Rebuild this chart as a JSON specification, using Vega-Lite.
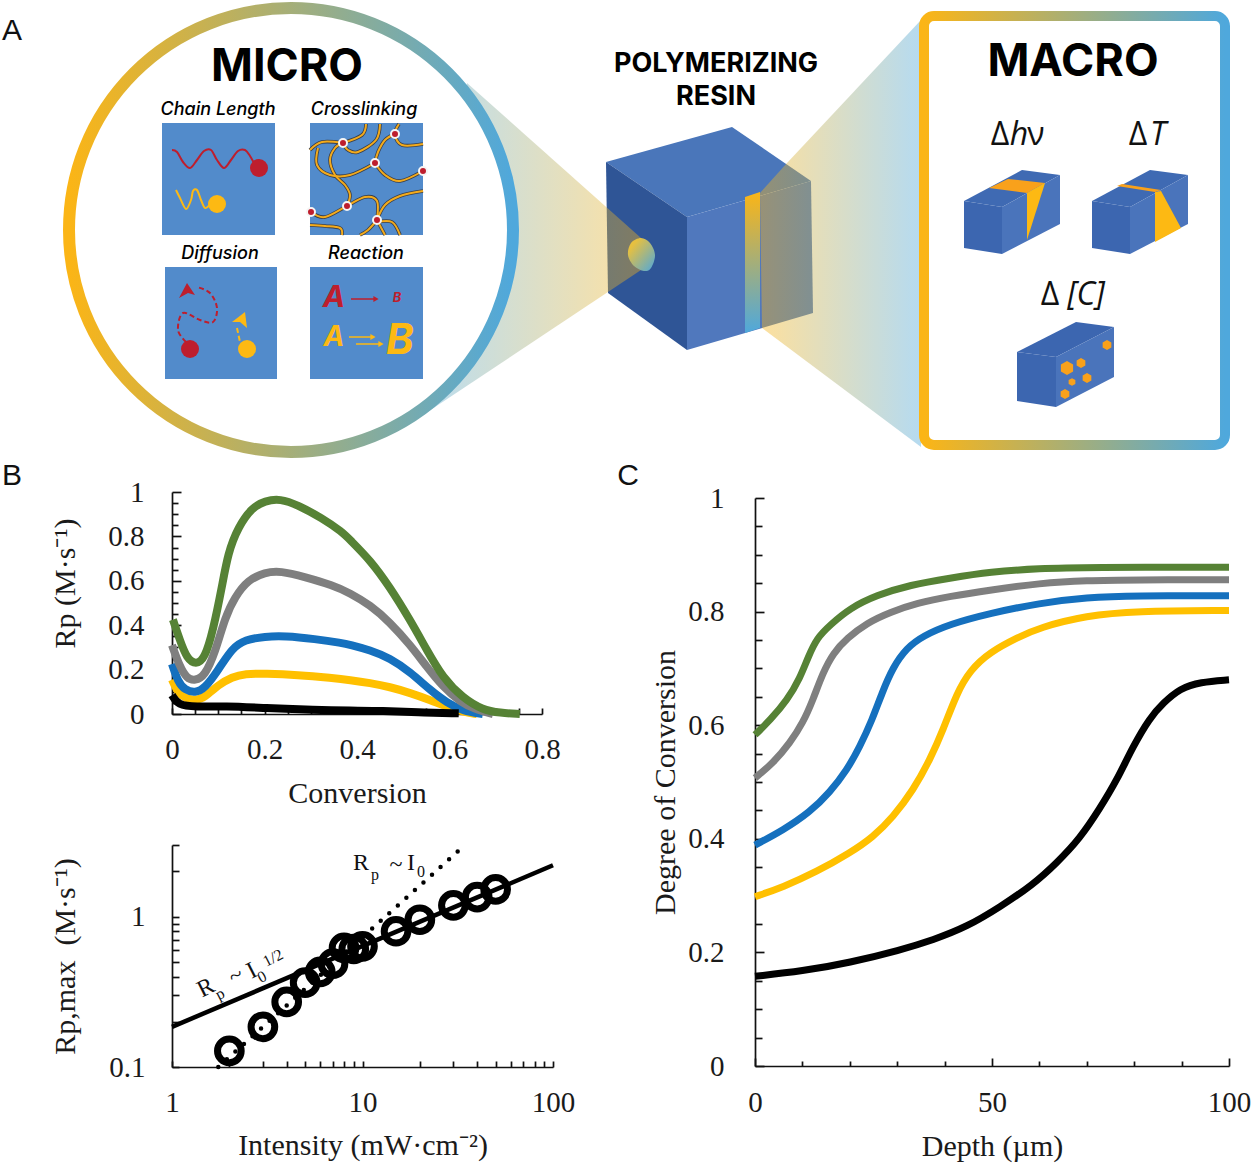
{"$schema":"https://vega.github.io/schema/vega-lite/v6.json","width":1253,"height":1164,"padding":0,"autosize":{"type":"none"},"background":"white","config":{"view":{"stroke":null},"axis":{"grid":false,"labelFont":"Liberation Serif","titleFont":"Liberation Serif","labelFontSize":29,"titleFontSize":30,"titleFontWeight":"normal","labelColor":"#1a1a1a","titleColor":"#1a1a1a","domainColor":"#111","tickColor":"#111","domainWidth":1.7,"tickWidth":1.7,"labelOverlap":false,"labelBound":false,"labelFlush":false}},
"datasets":{
"polyA":[
{"id":"top","p":"cubeTop","i":0,"x":606,"y":162},{"id":"top","p":"cubeTop","i":1,"x":732,"y":127},{"id":"top","p":"cubeTop","i":2,"x":811,"y":181},{"id":"top","p":"cubeTop","i":3,"x":687,"y":217},
{"id":"left","p":"cubeLeft","i":0,"x":606,"y":162},{"id":"left","p":"cubeLeft","i":1,"x":687,"y":217},{"id":"left","p":"cubeLeft","i":2,"x":687,"y":350},{"id":"left","p":"cubeLeft","i":3,"x":608,"y":293},
{"id":"right","p":"cubeRight","i":0,"x":687,"y":217},{"id":"right","p":"cubeRight","i":1,"x":811,"y":181},{"id":"right","p":"cubeRight","i":2,"x":813,"y":313},{"id":"right","p":"cubeRight","i":3,"x":687,"y":350}],
"slit":[{"i":0,"x":745,"y":197},{"i":1,"x":760,"y":192},{"i":2,"x":760,"y":328},{"i":3,"x":745,"y":333}],
"coneL":[{"i":0,"x":467,"y":83},{"i":1,"x":641,"y":238},{"i":2,"x":641,"y":270},{"i":3,"x":420,"y":417}],
"coneR":[{"i":0,"x":760,"y":193},{"i":1,"x":787,"y":163},{"i":2,"x":921,"y":20},{"i":3,"x":921,"y":447},{"i":4,"x":762,"y":328}],
"hole":[{"i":0,"x":641,"y":238},{"i":1,"x":650,"y":243},{"i":2,"x":655,"y":255},{"i":3,"x":651,"y":268},{"i":4,"x":644,"y":271},{"i":5,"x":634,"y":266},{"i":6,"x":628,"y":255},{"i":7,"x":631,"y":243}],
"ring":[{"x":291,"y":230}],
"macroBox":[{"x":924,"y":16,"x2":1225,"y2":445}],
"squares":[{"n":"Chain Length","x":162,"x2":275,"y":123,"y2":235},{"n":"Crosslinking","x":310,"x2":423,"y":123,"y2":235},{"n":"Diffusion","x":165,"x2":277,"y":267,"y2":379},{"n":"Reaction","x":310,"x2":423,"y":267,"y2":379}],
"waves":[
{"g":"red","i":0,"x":172,"y":150},{"g":"red","i":1,"x":177,"y":152},{"g":"red","i":2,"x":183,"y":162},{"g":"red","i":3,"x":190,"y":168},{"g":"red","i":4,"x":197,"y":160},{"g":"red","i":5,"x":204,"y":151},{"g":"red","i":6,"x":211,"y":150},{"g":"red","i":7,"x":217,"y":160},{"g":"red","i":8,"x":224,"y":168},{"g":"red","i":9,"x":231,"y":160},{"g":"red","i":10,"x":238,"y":151},{"g":"red","i":11,"x":245,"y":150},{"g":"red","i":12,"x":250,"y":156},{"g":"red","i":13,"x":255,"y":165},
{"g":"yellow","i":0,"x":176,"y":190},{"g":"yellow","i":1,"x":180,"y":198},{"g":"yellow","i":2,"x":186,"y":209},{"g":"yellow","i":3,"x":191,"y":200},{"g":"yellow","i":4,"x":193,"y":191},{"g":"yellow","i":5,"x":197,"y":190},{"g":"yellow","i":6,"x":201,"y":200},{"g":"yellow","i":7,"x":205,"y":208},{"g":"yellow","i":8,"x":210,"y":205},{"g":"yellow","i":9,"x":214,"y":203}],
"dash":[
{"g":"red","i":0,"x":186,"y":342},{"g":"red","i":1,"x":178,"y":330},{"g":"red","i":2,"x":183,"y":313},{"g":"red","i":3,"x":200,"y":320},{"g":"red","i":4,"x":213,"y":322},{"g":"red","i":5,"x":217,"y":308},{"g":"red","i":6,"x":210,"y":293},{"g":"red","i":7,"x":197,"y":287},
{"g":"yellow","i":0,"x":237,"y":328},{"g":"yellow","i":1,"x":240,"y":342}],
"dots":[{"g":"red","x":259,"y":168},{"g":"yellow","x":217,"y":204},{"g":"red","x":190,"y":349},{"g":"yellow","x":247,"y":349}],
"heads":[
{"g":"red","i":0,"x":187,"y":283},{"g":"red","i":1,"x":179,"y":298},{"g":"red","i":2,"x":188,"y":293},{"g":"red","i":3,"x":195,"y":295},
{"g":"yellow","i":0,"x":245,"y":312},{"g":"yellow","i":1,"x":232,"y":322},{"g":"yellow","i":2,"x":240,"y":322},{"g":"yellow","i":3,"x":247,"y":328}],
"links":[
{"g":"a","i":0,"x":310,"y":150},{"g":"a","i":1,"x":322,"y":142},{"g":"a","i":2,"x":343,"y":143},
{"g":"b","i":0,"x":366,"y":124},{"g":"b","i":1,"x":362,"y":135},{"g":"b","i":2,"x":343,"y":143},
{"g":"c","i":0,"x":343,"y":143},{"g":"c","i":1,"x":335,"y":148},{"g":"c","i":2,"x":330,"y":160},{"g":"c","i":3,"x":335,"y":175},{"g":"c","i":4,"x":345,"y":185},{"g":"c","i":5,"x":350,"y":195},{"g":"c","i":6,"x":347,"y":206},
{"g":"d","i":0,"x":318,"y":148},{"g":"d","i":1,"x":317,"y":165},{"g":"d","i":2,"x":330,"y":175},{"g":"d","i":3,"x":350,"y":175},{"g":"d","i":4,"x":375,"y":163},
{"g":"e","i":0,"x":380,"y":124},{"g":"e","i":1,"x":376,"y":140},{"g":"e","i":2,"x":358,"y":152},{"g":"e","i":3,"x":348,"y":150},{"g":"e","i":4,"x":343,"y":143},
{"g":"f","i":0,"x":395,"y":134},{"g":"f","i":1,"x":385,"y":140},{"g":"f","i":2,"x":378,"y":152},{"g":"f","i":3,"x":375,"y":163},
{"g":"g","i":0,"x":399,"y":124},{"g":"g","i":1,"x":395,"y":134},{"g":"g","i":2,"x":402,"y":145},{"g":"g","i":3,"x":423,"y":144},
{"g":"h","i":0,"x":375,"y":163},{"g":"h","i":1,"x":385,"y":175},{"g":"h","i":2,"x":400,"y":181},{"g":"h","i":3,"x":423,"y":171},
{"g":"i","i":0,"x":311,"y":212},{"g":"i","i":1,"x":325,"y":217},{"g":"i","i":2,"x":347,"y":206},{"g":"i","i":3,"x":365,"y":197},{"g":"i","i":4,"x":377,"y":201},{"g":"i","i":5,"x":377,"y":220},
{"g":"j","i":0,"x":377,"y":220},{"g":"j","i":1,"x":385,"y":205},{"g":"j","i":2,"x":400,"y":196},{"g":"j","i":3,"x":423,"y":191},
{"g":"k","i":0,"x":310,"y":225},{"g":"k","i":1,"x":325,"y":226},{"g":"k","i":2,"x":340,"y":228},{"g":"k","i":3,"x":342,"y":235},
{"g":"l","i":0,"x":377,"y":220},{"g":"l","i":1,"x":368,"y":230},{"g":"l","i":2,"x":360,"y":235},
{"g":"m","i":0,"x":377,"y":220},{"g":"m","i":1,"x":385,"y":235},
{"g":"n","i":0,"x":377,"y":222},{"g":"n","i":1,"x":392,"y":222},{"g":"n","i":2,"x":400,"y":235}],
"nodes":[{"x":343,"y":143},{"x":395,"y":134},{"x":375,"y":163},{"x":423,"y":171},{"x":347,"y":206},{"x":311,"y":212},{"x":377,"y":220}],
"arrows":[{"g":"red","a":"r1","i":0,"x":351,"y":299},{"g":"red","a":"r1","i":1,"x":376,"y":299},{"g":"yellow","a":"y1","i":0,"x":349,"y":337},{"g":"yellow","a":"y1","i":1,"x":373,"y":337},{"g":"yellow","a":"y2","i":0,"x":356,"y":344},{"g":"yellow","a":"y2","i":1,"x":381,"y":344}],
"arrowTips":[{"g":"red","x":376,"y":299},{"g":"yellow","x":373,"y":337},{"g":"yellow","x":381,"y":344}],
"reaction":[{"t":"A","g":"red","k":"big","x":334,"y":298},{"t":"B","g":"red","k":"small","x":397,"y":298},{"t":"A","g":"yellow","k":"mid","x":334,"y":338},{"t":"B","g":"yellow","k":"huge","x":400,"y":341}],
"boxes":[
{"id":"b1l","p":"side","i":0,"x":964,"y":201},{"id":"b1l","p":"side","i":1,"x":1002,"y":207},{"id":"b1l","p":"side","i":2,"x":1002,"y":254},{"id":"b1l","p":"side","i":3,"x":964,"y":248},
{"id":"b1t","p":"lid","i":0,"x":964,"y":201},{"id":"b1t","p":"lid","i":1,"x":1022,"y":170},{"id":"b1t","p":"lid","i":2,"x":1060,"y":175},{"id":"b1t","p":"lid","i":3,"x":1002,"y":207},
{"id":"b1r","p":"front","i":0,"x":1002,"y":207},{"id":"b1r","p":"front","i":1,"x":1060,"y":175},{"id":"b1r","p":"front","i":2,"x":1060,"y":224},{"id":"b1r","p":"front","i":3,"x":1002,"y":254},
{"id":"b1s","p":"strip","i":0,"x":989,"y":188},{"id":"b1s","p":"strip","i":1,"x":1008,"y":179},{"id":"b1s","p":"strip","i":2,"x":1045,"y":183},{"id":"b1s","p":"strip","i":3,"x":1027,"y":193},
{"id":"b1w","p":"wedge","i":0,"x":1027,"y":193},{"id":"b1w","p":"wedge","i":1,"x":1045,"y":183},{"id":"b1w","p":"wedge","i":2,"x":1027,"y":240},
{"id":"b2l","p":"side","i":0,"x":1092,"y":201},{"id":"b2l","p":"side","i":1,"x":1130,"y":207},{"id":"b2l","p":"side","i":2,"x":1130,"y":254},{"id":"b2l","p":"side","i":3,"x":1092,"y":248},
{"id":"b2t","p":"lid","i":0,"x":1092,"y":201},{"id":"b2t","p":"lid","i":1,"x":1150,"y":170},{"id":"b2t","p":"lid","i":2,"x":1188,"y":175},{"id":"b2t","p":"lid","i":3,"x":1130,"y":207},
{"id":"b2r","p":"front","i":0,"x":1130,"y":207},{"id":"b2r","p":"front","i":1,"x":1188,"y":175},{"id":"b2r","p":"front","i":2,"x":1188,"y":224},{"id":"b2r","p":"front","i":3,"x":1130,"y":254},
{"id":"b2s","p":"strip","i":0,"x":1117,"y":186},{"id":"b2s","p":"strip","i":1,"x":1122,"y":184},{"id":"b2s","p":"strip","i":2,"x":1161,"y":190},{"id":"b2s","p":"strip","i":3,"x":1155,"y":192},
{"id":"b2w","p":"wedge","i":0,"x":1155,"y":192},{"id":"b2w","p":"wedge","i":1,"x":1161,"y":191},{"id":"b2w","p":"wedge","i":2,"x":1181,"y":228},{"id":"b2w","p":"wedge","i":3,"x":1155,"y":242},
{"id":"b3l","p":"side","i":0,"x":1017,"y":352},{"id":"b3l","p":"side","i":1,"x":1056,"y":357},{"id":"b3l","p":"side","i":2,"x":1056,"y":407},{"id":"b3l","p":"side","i":3,"x":1017,"y":401},
{"id":"b3t","p":"side","i":0,"x":1017,"y":352},{"id":"b3t","p":"side","i":1,"x":1076,"y":322},{"id":"b3t","p":"side","i":2,"x":1114,"y":327},{"id":"b3t","p":"side","i":3,"x":1056,"y":357},
{"id":"b3r","p":"front","i":0,"x":1056,"y":357},{"id":"b3r","p":"front","i":1,"x":1114,"y":327},{"id":"b3r","p":"front","i":2,"x":1114,"y":377},{"id":"b3r","p":"front","i":3,"x":1056,"y":407}],
"hexBig":[{"x":1067,"y":368}],
"hexSmall":[{"x":1081,"y":363},{"x":1107,"y":345},{"x":1087,"y":378},{"x":1065,"y":394}],
"hexTiny":[{"x":1072,"y":382}],
"letters":[{"t":"A","x":12,"y":31},{"t":"B","x":12,"y":476},{"t":"C","x":628,"y":476}],
"heads1":[{"t":"MICRO","k":"h1","x":287,"y":67},{"t":"MACRO","k":"h1","x":1073,"y":62},{"t":"POLYMERIZING","k":"h2","x":716,"y":64},{"t":"RESIN","k":"h2","x":716,"y":97}],
"heads2":[{"t":"Chain Length","x":218,"y":110},{"t":"Crosslinking","x":364,"y":110},{"t":"Diffusion","x":220,"y":254},{"t":"Reaction","x":366,"y":254}],
"deltaU":[{"t":"Δ","x":1000,"y":135},{"t":"ν","x":1036,"y":135},{"t":"Δ","x":1138,"y":135},{"t":"Δ","x":1050,"y":295}],
"deltaI":[{"t":"h","x":1019,"y":135},{"t":"T","x":1158,"y":135},{"t":"[C]","x":1086,"y":295}],
"anno":[{"t":"R","k":"b","x":361,"y":863},{"t":"p","k":"s","x":375,"y":875},{"t":"~","k":"b","x":396,"y":865},{"t":"I","k":"b","x":411,"y":863},{"t":"0","k":"s","x":421,"y":872}],
"annoR":[{"t":"R","k":"b","x":206,"y":988},{"t":"p","k":"s","x":220,"y":994},{"t":"~","k":"b","x":236,"y":976},{"t":"I","k":"b","x":252,"y":971},{"t":"0","k":"s","x":262,"y":977},{"t":"1/2","k":"s","x":273,"y":958}],
"rate":[
{"s":"yellow","x":0,"y":0.155},{"s":"yellow","x":0.013,"y":0.095},{"s":"yellow","x":0.028,"y":0.072},{"s":"yellow","x":0.05,"y":0.06},{"s":"yellow","x":0.071,"y":0.075},{"s":"yellow","x":0.1,"y":0.131},{"s":"yellow","x":0.13,"y":0.167},{"s":"yellow","x":0.158,"y":0.182},{"s":"yellow","x":0.201,"y":0.182},{"s":"yellow","x":0.272,"y":0.176},{"s":"yellow","x":0.346,"y":0.162},{"s":"yellow","x":0.385,"y":0.153},{"s":"yellow","x":0.428,"y":0.14},{"s":"yellow","x":0.471,"y":0.122},{"s":"yellow","x":0.515,"y":0.095},{"s":"yellow","x":0.558,"y":0.063},{"s":"yellow","x":0.595,"y":0.032},{"s":"yellow","x":0.629,"y":0.009},{"s":"yellow","x":0.659,"y":0},
{"s":"blue","x":0,"y":0.225},{"s":"blue","x":0.013,"y":0.144},{"s":"blue","x":0.028,"y":0.108},{"s":"blue","x":0.05,"y":0.095},{"s":"blue","x":0.071,"y":0.115},{"s":"blue","x":0.1,"y":0.198},{"s":"blue","x":0.13,"y":0.297},{"s":"blue","x":0.158,"y":0.335},{"s":"blue","x":0.201,"y":0.349},{"s":"blue","x":0.244,"y":0.352},{"s":"blue","x":0.309,"y":0.338},{"s":"blue","x":0.368,"y":0.32},{"s":"blue","x":0.385,"y":0.312},{"s":"blue","x":0.428,"y":0.288},{"s":"blue","x":0.471,"y":0.252},{"s":"blue","x":0.515,"y":0.189},{"s":"blue","x":0.558,"y":0.108},{"s":"blue","x":0.595,"y":0.05},{"s":"blue","x":0.629,"y":0.014},{"s":"blue","x":0.672,"y":0},
{"s":"gray","x":0,"y":0.31},{"s":"gray","x":0.017,"y":0.212},{"s":"gray","x":0.032,"y":0.16},{"s":"gray","x":0.05,"y":0.15},{"s":"gray","x":0.071,"y":0.172},{"s":"gray","x":0.093,"y":0.275},{"s":"gray","x":0.115,"y":0.437},{"s":"gray","x":0.136,"y":0.527},{"s":"gray","x":0.164,"y":0.604},{"s":"gray","x":0.201,"y":0.638},{"s":"gray","x":0.234,"y":0.645},{"s":"gray","x":0.288,"y":0.617},{"s":"gray","x":0.346,"y":0.581},{"s":"gray","x":0.385,"y":0.545},{"s":"gray","x":0.428,"y":0.491},{"s":"gray","x":0.471,"y":0.414},{"s":"gray","x":0.515,"y":0.311},{"s":"gray","x":0.551,"y":0.212},{"s":"gray","x":0.586,"y":0.122},{"s":"gray","x":0.623,"y":0.054},{"s":"gray","x":0.659,"y":0.018},{"s":"gray","x":0.694,"y":0},
{"s":"green","x":0.002,"y":0.425},{"s":"green","x":0.017,"y":0.333},{"s":"green","x":0.032,"y":0.25},{"s":"green","x":0.052,"y":0.222},{"s":"green","x":0.071,"y":0.25},{"s":"green","x":0.089,"y":0.378},{"s":"green","x":0.108,"y":0.572},{"s":"green","x":0.121,"y":0.725},{"s":"green","x":0.143,"y":0.842},{"s":"green","x":0.173,"y":0.93},{"s":"green","x":0.201,"y":0.96},{"s":"green","x":0.234,"y":0.97},{"s":"green","x":0.272,"y":0.941},{"s":"green","x":0.324,"y":0.883},{"s":"green","x":0.368,"y":0.82},{"s":"green","x":0.385,"y":0.784},{"s":"green","x":0.428,"y":0.694},{"s":"green","x":0.471,"y":0.572},{"s":"green","x":0.515,"y":0.423},{"s":"green","x":0.551,"y":0.288},{"s":"green","x":0.586,"y":0.162},{"s":"green","x":0.629,"y":0.072},{"s":"green","x":0.672,"y":0.018},{"s":"green","x":0.709,"y":0.005},{"s":"green","x":0.752,"y":0},
{"s":"black","x":0,"y":0.085},{"s":"black","x":0.013,"y":0.04},{"s":"black","x":0.05,"y":0.032},{"s":"black","x":0.115,"y":0.036},{"s":"black","x":0.2,"y":0.027},{"s":"black","x":0.31,"y":0.018},{"s":"black","x":0.385,"y":0.015},{"s":"black","x":0.456,"y":0.014},{"s":"black","x":0.53,"y":0.007},{"s":"black","x":0.62,"y":0.003}],
"depth":[
{"s":"black","x":0,"y":0.158},{"s":"black","x":10,"y":0.167},{"s":"black","x":20,"y":0.182},{"s":"black","x":30.6,"y":0.204},{"s":"black","x":37.6,"y":0.222},{"s":"black","x":44.7,"y":0.245},{"s":"black","x":51.7,"y":0.28},{"s":"black","x":58.6,"y":0.319},{"s":"black","x":63.6,"y":0.357},{"s":"black","x":68.6,"y":0.401},{"s":"black","x":72.8,"y":0.454},{"s":"black","x":76.4,"y":0.504},{"s":"black","x":79.7,"y":0.562},{"s":"black","x":83.3,"y":0.613},{"s":"black","x":86.1,"y":0.639},{"s":"black","x":89.7,"y":0.665},{"s":"black","x":93.9,"y":0.676},{"s":"black","x":100,"y":0.68},
{"s":"yellow","x":0,"y":0.298},{"s":"yellow","x":5.9,"y":0.315},{"s":"yellow","x":13,"y":0.342},{"s":"yellow","x":20,"y":0.375},{"s":"yellow","x":24.9,"y":0.403},{"s":"yellow","x":29.1,"y":0.438},{"s":"yellow","x":33.4,"y":0.486},{"s":"yellow","x":36.9,"y":0.539},{"s":"yellow","x":39.7,"y":0.592},{"s":"yellow","x":42.6,"y":0.657},{"s":"yellow","x":45.4,"y":0.697},{"s":"yellow","x":49.6,"y":0.729},{"s":"yellow","x":55.3,"y":0.754},{"s":"yellow","x":60,"y":0.772},{"s":"yellow","x":70,"y":0.793},{"s":"yellow","x":80,"y":0.801},{"s":"yellow","x":100,"y":0.802},
{"s":"blue","x":0,"y":0.389},{"s":"blue","x":5.9,"y":0.415},{"s":"blue","x":11.6,"y":0.447},{"s":"blue","x":15.8,"y":0.482},{"s":"blue","x":19.4,"y":0.521},{"s":"blue","x":22.1,"y":0.562},{"s":"blue","x":24.7,"y":0.609},{"s":"blue","x":26.8,"y":0.657},{"s":"blue","x":29.1,"y":0.702},{"s":"blue","x":32,"y":0.736},{"s":"blue","x":35.4,"y":0.757},{"s":"blue","x":41.1,"y":0.778},{"s":"blue","x":49.6,"y":0.797},{"s":"blue","x":60,"y":0.815},{"s":"blue","x":70,"y":0.825},{"s":"blue","x":80,"y":0.828},{"s":"blue","x":100,"y":0.828},
{"s":"gray","x":0,"y":0.507},{"s":"gray","x":3.8,"y":0.533},{"s":"gray","x":7.4,"y":0.569},{"s":"gray","x":10.1,"y":0.604},{"s":"gray","x":12.2,"y":0.644},{"s":"gray","x":14.3,"y":0.692},{"s":"gray","x":16.5,"y":0.727},{"s":"gray","x":19.4,"y":0.753},{"s":"gray","x":23.6,"y":0.78},{"s":"gray","x":28.5,"y":0.799},{"s":"gray","x":34.2,"y":0.815},{"s":"gray","x":41.1,"y":0.827},{"s":"gray","x":49.6,"y":0.838},{"s":"gray","x":60,"y":0.85},{"s":"gray","x":70,"y":0.855},{"s":"gray","x":80,"y":0.856},{"s":"gray","x":100,"y":0.856},
{"s":"green","x":0,"y":0.583},{"s":"green","x":3.2,"y":0.609},{"s":"green","x":6.8,"y":0.644},{"s":"green","x":9.5,"y":0.683},{"s":"green","x":11.2,"y":0.72},{"s":"green","x":13.1,"y":0.754},{"s":"green","x":15.8,"y":0.776},{"s":"green","x":20,"y":0.806},{"s":"green","x":25.7,"y":0.829},{"s":"green","x":32.7,"y":0.847},{"s":"green","x":41.1,"y":0.859},{"s":"green","x":49.6,"y":0.87},{"s":"green","x":60,"y":0.876},{"s":"green","x":70,"y":0.878},{"s":"green","x":100,"y":0.878}],
"rings":[{"x":2,"y":0.128},{"x":3,"y":0.185},{"x":4,"y":0.271},{"x":5,"y":0.364},{"x":6,"y":0.429},{"x":7,"y":0.487},{"x":8,"y":0.62},{"x":9,"y":0.61},{"x":10,"y":0.635},{"x":15,"y":0.8},{"x":20,"y":0.955},{"x":30,"y":1.19},{"x":40,"y":1.35},{"x":50,"y":1.52}],
"halfLine":[{"x":1,"y":0.185},{"x":100,"y":2.2}],
"oneLine":[{"x":1.75,"y":0.1},{"x":33,"y":2.85}]
},
"resolve":{"scale":{"x":"independent","y":"independent","color":"independent","fill":"independent","stroke":"independent","size":"independent"},"axis":{"x":"independent","y":"independent"}},
"layer":[
{"resolve":{"scale":{"fill":"independent","stroke":"independent","size":"independent"}},"encoding":{"x":{"field":"x","type":"quantitative","scale":{"domain":[0,1253],"range":[0,1253]},"axis":null},"y":{"field":"y","type":"quantitative","scale":{"domain":[0,1164],"range":[0,1164]},"axis":null}},
"layer":[
{"data":{"name":"polyA"},"mark":{"type":"line","strokeWidth":0},"encoding":{"order":{"field":"i"},"detail":{"field":"id"},"fill":{"field":"p","type":"nominal","legend":null,"scale":{"domain":["cubeTop","cubeLeft","cubeRight"],"range":["#4a76ba","#2f5596","#5078bd"]}}}},
{"data":{"name":"slit"},"mark":{"type":"line","strokeWidth":0,"fill":{"gradient":"linear","x1":0,"y1":0,"x2":0,"y2":1,"stops":[{"offset":0,"color":"#fbb516"},{"offset":1,"color":"#4fa8dc"}]}},"encoding":{"order":{"field":"i"}}},
{"data":{"name":"coneL"},"mark":{"type":"line","strokeWidth":0,"opacity":0.4,"fill":{"gradient":"linear","x1":0,"y1":0,"x2":1,"y2":0,"stops":[{"offset":0,"color":"#4fa8dc"},{"offset":1,"color":"#fbb516"}]}},"encoding":{"order":{"field":"i"}}},
{"data":{"name":"hole"},"mark":{"type":"line","strokeWidth":0,"interpolate":"cardinal-closed","fill":{"gradient":"linear","x1":0,"y1":0,"x2":1,"y2":1,"stops":[{"offset":0.2,"color":"#e6c040"},{"offset":1,"color":"#4fa8dc"}]}},"encoding":{"order":{"field":"i"}}},
{"data":{"name":"coneR"},"mark":{"type":"line","strokeWidth":0,"opacity":0.42,"fill":{"gradient":"linear","x1":0,"y1":0,"x2":1,"y2":0,"stops":[{"offset":0,"color":"#fbb516"},{"offset":1,"color":"#4fa8dc"}]}},"encoding":{"order":{"field":"i"}}},
{"data":{"name":"ring"},"mark":{"type":"point","shape":"circle","size":197136,"opacity":1,"fill":"white","strokeWidth":12,"stroke":{"gradient":"linear","x1":0,"y1":0,"x2":1,"y2":0,"stops":[{"offset":0,"color":"#fbb516"},{"offset":1,"color":"#4fa8dc"}]}}},
{"data":{"name":"macroBox"},"mark":{"type":"rect","fill":"white","cornerRadius":10,"strokeWidth":10,"stroke":{"gradient":"linear","x1":0,"y1":0,"x2":1,"y2":0,"stops":[{"offset":0,"color":"#fbb516"},{"offset":1,"color":"#4fa8dc"}]}},"encoding":{"x2":{"field":"x2"},"y2":{"field":"y2"}}},
{"data":{"name":"squares"},"mark":{"type":"rect","fill":"#528bcb"},"encoding":{"x2":{"field":"x2"},"y2":{"field":"y2"}}},
{"data":{"name":"waves"},"mark":{"type":"line","interpolate":"cardinal","strokeWidth":2},"encoding":{"order":{"field":"i"},"stroke":{"field":"g","type":"nominal","legend":null,"scale":{"domain":["red","yellow"],"range":["#be1e2d","#fdb913"]}}}},
{"data":{"name":"dash"},"mark":{"type":"line","interpolate":"cardinal","strokeWidth":2,"strokeDash":[5,3]},"encoding":{"order":{"field":"i"},"stroke":{"field":"g","type":"nominal","legend":null,"scale":{"domain":["red","yellow"],"range":["#be1e2d","#fdb913"]}}}},
{"data":{"name":"heads"},"mark":{"type":"line","strokeWidth":0},"encoding":{"order":{"field":"i"},"detail":{"field":"g"},"fill":{"field":"g","type":"nominal","legend":null,"scale":{"domain":["red","yellow"],"range":["#be1e2d","#fdb913"]}}}},
{"data":{"name":"dots"},"mark":{"type":"point","shape":"circle","filled":true,"size":324,"opacity":1},"encoding":{"fill":{"field":"g","type":"nominal","legend":null,"scale":{"domain":["red","yellow"],"range":["#be1e2d","#fdb913"]}}}},
{"data":{"name":"links"},"mark":{"type":"line","interpolate":"cardinal","strokeWidth":3.6,"stroke":"#3a3f4a"},"encoding":{"order":{"field":"i"},"detail":{"field":"g"}}},
{"data":{"name":"links"},"mark":{"type":"line","interpolate":"cardinal","strokeWidth":2,"stroke":"#f3ab1c"},"encoding":{"order":{"field":"i"},"detail":{"field":"g"}}},
{"data":{"name":"nodes"},"mark":{"type":"point","shape":"circle","filled":true,"size":64,"opacity":1,"fill":"#be1e2d","stroke":"#f5f5f5","strokeWidth":2}},
{"data":{"name":"arrows"},"mark":{"type":"line","strokeWidth":1.5},"encoding":{"order":{"field":"i"},"detail":{"field":"a"},"stroke":{"field":"g","type":"nominal","legend":null,"scale":{"domain":["red","yellow"],"range":["#be1e2d","#fdb913"]}}}},
{"data":{"name":"arrowTips"},"mark":{"type":"point","shape":"triangle-right","filled":true,"size":36,"opacity":1},"encoding":{"fill":{"field":"g","type":"nominal","legend":null,"scale":{"domain":["red","yellow"],"range":["#be1e2d","#fdb913"]}}}},
{"data":{"name":"reaction"},"mark":{"type":"text","font":"Inter","fontWeight":"bold","fontStyle":"italic","align":"center","baseline":"middle"},"encoding":{"text":{"field":"t"},"fill":{"field":"g","type":"nominal","legend":null,"scale":{"domain":["red","yellow"],"range":["#be1e2d","#fdb913"]}},"size":{"field":"k","type":"nominal","legend":null,"scale":{"type":"ordinal","domain":["small","mid","big","huge"],"range":[13,28,30,42]}}}},
{"data":{"name":"boxes"},"mark":{"type":"line","strokeWidth":0},"encoding":{"order":{"field":"i"},"detail":{"field":"id"},"fill":{"field":"p","type":"nominal","legend":null,"scale":{"domain":["side","lid","front","strip","wedge"],"range":["#3c66b0","#3f6ab3","#4a74bb","#f9a11b","#fdb913"]}}}},
{"data":{"name":"hexBig"},"mark":{"type":"point","filled":true,"opacity":1,"color":"#f9a11b","size":196,"shape":"M0,-1L0.87,-0.5L0.87,0.5L0,1L-0.87,0.5L-0.87,-0.5Z"}},
{"data":{"name":"hexSmall"},"mark":{"type":"point","filled":true,"opacity":1,"color":"#f9a11b","size":100,"shape":"M0,-1L0.87,-0.5L0.87,0.5L0,1L-0.87,0.5L-0.87,-0.5Z"}},
{"data":{"name":"hexTiny"},"mark":{"type":"point","filled":true,"opacity":1,"color":"#f9a11b","size":60,"shape":"M0,-1L0.87,-0.5L0.87,0.5L0,1L-0.87,0.5L-0.87,-0.5Z"}},
{"data":{"name":"letters"},"mark":{"type":"text","font":"Liberation Sans","fontSize":30,"align":"center","baseline":"middle","color":"#111"},"encoding":{"text":{"field":"t"}}},
{"data":{"name":"heads1"},"mark":{"type":"text","font":"Inter","fontWeight":"bold","align":"center","baseline":"middle","color":"#000"},"encoding":{"text":{"field":"t"},"size":{"field":"k","type":"nominal","legend":null,"scale":{"type":"ordinal","domain":["h1","h2"],"range":[45,27]}}}},
{"data":{"name":"heads2"},"mark":{"type":"text","font":"Inter","fontStyle":"italic","fontWeight":500,"fontSize":18,"align":"center","baseline":"middle","color":"#000"},"encoding":{"text":{"field":"t"}}},
{"data":{"name":"deltaU"},"mark":{"type":"text","font":"Open Sans","fontSize":32,"align":"center","baseline":"middle","color":"#111"},"encoding":{"text":{"field":"t"}}},
{"data":{"name":"deltaI"},"mark":{"type":"text","font":"Open Sans","fontStyle":"italic","fontSize":32,"align":"center","baseline":"middle","color":"#111"},"encoding":{"text":{"field":"t"}}},
{"data":{"name":"anno"},"mark":{"type":"text","font":"Liberation Serif","align":"center","baseline":"middle","color":"#111"},"encoding":{"text":{"field":"t"},"size":{"field":"k","type":"nominal","legend":null,"scale":{"type":"ordinal","domain":["b","s"],"range":[24,16]}}}},
{"data":{"name":"annoR"},"mark":{"type":"text","font":"Liberation Serif","angle":333,"align":"center","baseline":"middle","color":"#111"},"encoding":{"text":{"field":"t"},"size":{"field":"k","type":"nominal","legend":null,"scale":{"type":"ordinal","domain":["b","s"],"range":[24,16]}}}}
]},
{"data":{"name":"rate"},"mark":{"type":"line","interpolate":"basis","strokeWidth":8,"strokeCap":"butt"},
"encoding":{"x":{"field":"x","type":"quantitative","title":"Conversion","scale":{"domain":[0,0.8],"range":[172,542]},"axis":{"orient":"bottom","offset":-450,"values":[0,0.05,0.1,0.15,0.2,0.25,0.3,0.35,0.4,0.45,0.5,0.55,0.6,0.65,0.7,0.75,0.8],"format":".2~f","labelExpr":"round(datum.value*20)%4==0?datum.label:''","tickSize":-6,"labelPadding":27,"titlePadding":14,"titleAnchor":"middle"}},
"y":{"field":"y","type":"quantitative","title":"Rp (M·s⁻¹)","scale":{"domain":[0,1],"range":[714,492]},"axis":{"orient":"left","offset":-172,"values":[0,0.05,0.1,0.15,0.2,0.25,0.3,0.35,0.4,0.45,0.5,0.55,0.6,0.65,0.7,0.75,0.8,0.85,0.9,0.95,1],"format":".2~f","labelExpr":"round(datum.value*20)%4==0?datum.label:''","tickSize":{"condition":{"test":"round(datum.value*20)%4==0","value":-9},"value":-6},"labelPadding":37,"titlePadding":27,"titleY":583}},
"color":{"field":"s","type":"nominal","legend":null,"sort":null,"scale":{"domain":["yellow","blue","gray","green","black"],"range":["#ffc000","#1570be","#7f7f7f","#568235","#000000"]}}}},
{"layer":[
{"data":{"name":"halfLine"},"mark":{"type":"line","strokeWidth":4.5,"color":"#000"},"encoding":{"x":{"field":"x","type":"quantitative"},"y":{"field":"y","type":"quantitative"}}},
{"data":{"name":"oneLine"},"mark":{"type":"line","strokeWidth":4.5,"color":"#000","strokeDash":[0,11.5],"strokeCap":"round"},"encoding":{"x":{"field":"x","type":"quantitative"},"y":{"field":"y","type":"quantitative"}}},
{"data":{"name":"rings"},"mark":{"type":"point","shape":"circle","filled":false,"size":560,"opacity":1,"color":"#000","strokeWidth":7},
"encoding":{"x":{"field":"x","type":"quantitative","title":"Intensity (mW·cm⁻²)","scale":{"type":"log","nice":false,"domain":[1,100],"range":[172,553]},"axis":{"orient":"bottom","offset":-97,"values":[1,2,3,4,5,6,7,8,9,10,20,30,40,50,60,70,80,90,100],"format":".2~f","labelExpr":"datum.value==1||datum.value==10||datum.value==100?datum.label:''","tickSize":-6,"labelPadding":27,"titlePadding":13}},
"y":{"field":"y","type":"quantitative","title":"Rp,max\u00a0\u00a0(M·s⁻¹)","scale":{"type":"log","nice":false,"domain":[0.1,3],"range":[1067,845]},"axis":{"orient":"left","offset":-172,"values":[0.1,0.2,0.3,0.4,0.5,0.6,0.7,0.8,0.9,1,2,3],"format":".2~f","labelExpr":"datum.value==0.1||datum.value==1?datum.label:''","tickSize":-7,"labelPadding":34,"titlePadding":28}}}}
]},
{"data":{"name":"depth"},"mark":{"type":"line","interpolate":"basis","strokeWidth":7,"strokeCap":"butt"},
"encoding":{"x":{"field":"x","type":"quantitative","title":"Depth (µm)","scale":{"domain":[0,100],"range":[755,1229]},"axis":{"orient":"bottom","offset":-98,"values":[0,10,20,30,40,50,60,70,80,90,100],"format":".2~f","labelExpr":"datum.value%50==0?datum.label:''","tickSize":{"condition":{"test":"datum.value%50==0","value":-8},"value":-5},"labelPadding":30,"titlePadding":11}},
"y":{"field":"y","type":"quantitative","title":"Degree of Conversion","scale":{"domain":[0,1],"range":[1066,498]},"axis":{"orient":"left","offset":-755,"values":[0,0.05,0.1,0.15,0.2,0.25,0.3,0.35,0.4,0.45,0.5,0.55,0.6,0.65,0.7,0.75,0.8,0.85,0.9,0.95,1],"format":".2~f","labelExpr":"round(datum.value*20)%4==0?datum.label:''","tickSize":{"condition":{"test":"round(datum.value*20)%4==0","value":-9},"value":-7},"labelPadding":40,"titlePadding":7}},
"color":{"field":"s","type":"nominal","legend":null,"sort":null,"scale":{"domain":["black","yellow","blue","gray","green"],"range":["#000000","#ffc000","#1570be","#7f7f7f","#568235"]}}}}
]}
